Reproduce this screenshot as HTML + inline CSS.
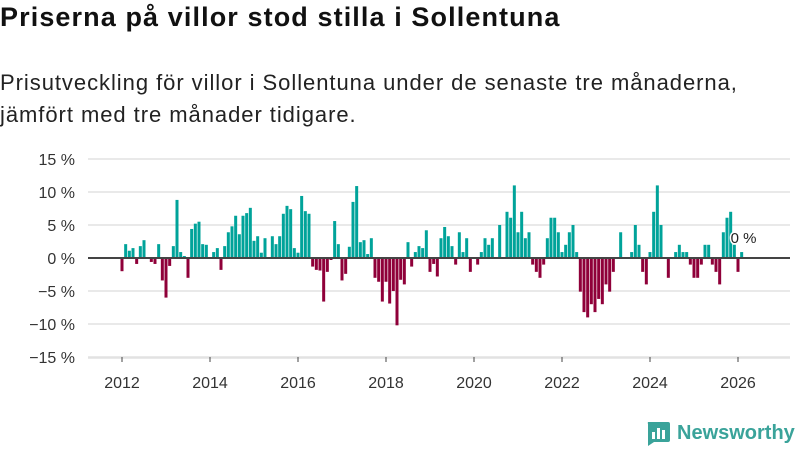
<!DOCTYPE html>
<html><head><meta charset="utf-8">
<style>
body{margin:0;width:800px;height:450px;background:#fff;font-family:"Liberation Sans",sans-serif;overflow:hidden;position:relative}
#title{position:absolute;left:0;top:2px;font-size:27px;font-weight:bold;color:#111;letter-spacing:1.1px}
#sub{position:absolute;left:0;top:67px;font-size:22px;color:#222;line-height:32px;letter-spacing:0.95px}
svg{position:absolute;left:0;top:0}
</style></head><body>
<div id="title">Priserna på villor stod stilla i Sollentuna</div>
<div id="sub">Prisutveckling för villor i Sollentuna under de senaste tre månaderna,<br>jämfört med tre månader tidigare.</div>
<svg id="chart" width="800" height="450"></svg>
<script>
const startYear = 2012;
const values = [-2,2.1,1.1,1.5,-0.9,1.8,2.7,0,-0.6,-0.9,2.1,-3.4,-6,-1.2,1.8,8.8,0.9,0.3,-3,4.4,5.2,5.5,2.1,2,
0,0.9,1.5,-1.8,1.8,3.9,4.8,6.4,3.6,6.4,6.8,7.6,2.6,3.3,0.8,3,0,3.3,2.1,3.3,6.7,7.9,7.4,1.5,0.8,9.4,7.1,6.7,-1.3,-1.8,-1.9,-6.6,-2.1,
-0.3,5.6,2.1,-3.4,-2.4,1.7,8.5,10.9,2.4,2.7,0.6,3,-3,-3.6,
-6.6,-3.6,-6.9,-5,-10.2,-3.3,-4,2.4,-1.3,0.9,1.8,1.5,4.2,-2.1,-0.9,-2.8,3,4.7,3.3,1.8,-1,3.9,0.9,3,-2.1,0,-1,0.9,3,2,3,0,5,0,7,6.1,11,3.9,7,3,3.9,-1,-2.1,-3,
-1,3,6.1,6.1,3.9,0.9,2,3.9,5,0.9,-5.1,-8.2,-9,-7,-8.2,-6.2,-7,-4,-5.1,-2.1,
0,3.9,0,0,0.9,5,2,-2.1,-4,0.9,7,11,5,0,-3,0,0.9,2,0.9,0.9,-1,-3,-3,-1,2,2,-1,-2.1,-4,3.9,6.1,7,2,-2.1,0.9];
const yTicks = [15,10,5,0,-5,-10,-15];
const yTickLabels = ["15 %","10 %","5 %","0 %","−5 %","−10 %","−15 %"];
const xTicks = [2012,2014,2016,2018,2020,2022,2024,2026];
const lastLabel = "0 %";

const NS="http://www.w3.org/2000/svg";
const svg=document.getElementById('chart');
function y(v){return 258 - v*6.6;}
function x(yearFrac){return 122 + (yearFrac-2012)*44;}
function mk(t,a){const e=document.createElementNS(NS,t);for(const k in a)e.setAttribute(k,a[k]);svg.appendChild(e);return e;}
yTicks.forEach((t,i)=>{
  if(t!==0){const l=mk('line',{x1:88,x2:790,y1:y(t),y2:y(t),stroke:'#e2e2e2','stroke-width':1.5});
  
  }
  const tx=mk('text',{x:75,y:y(t)+6,'text-anchor':'end','font-size':16,fill:'#333','font-family':'Liberation Sans, sans-serif'});
  tx.textContent=yTickLabels[i];
  
  
});
const base=mk('line',{x1:88,x2:790,y1:y(-15)+1,y2:y(-15)+1,stroke:'#e2e2e2','stroke-width':1.5});
xTicks.forEach(t=>{
  const tk=mk('line',{x1:x(t),x2:x(t),y1:357,y2:362,stroke:'#444','stroke-width':1});
  
  
  const tx=mk('text',{x:x(t),y:388,'text-anchor':'middle','font-size':16,fill:'#333','font-family':'Liberation Sans, sans-serif'});
  tx.textContent=t;
  
  
});
values.forEach((v,i)=>{
  if(v===0)return;
  const cx=x(startYear+i/12);
  const r=mk('rect',{x:cx-1.5,width:3,y:Math.min(y(v),y(0)),height:Math.abs(y(v)-y(0)),fill:v>0?'#00a39a':'#8f0039'});
  
  
});
const zl=mk('line',{x1:88,x2:790,y1:258,y2:258,stroke:'#444','stroke-width':2});


const lx=x(startYear+(values.length-1)/12);
const lbl=mk('text',{x:lx-11,y:243,'font-size':15,fill:'#222',stroke:'#fff','stroke-width':3,'paint-order':'stroke','font-family':'Liberation Sans, sans-serif'});
lbl.textContent=lastLabel;


</script>
<div style="position:absolute;left:645px;top:420px;display:flex;align-items:center">
<svg width="26" height="26" viewBox="0 0 26 26" style="position:static"><path d="M3 2h20a2 2 0 0 1 2 2v16a2 2 0 0 1-2 2H9l-6 4V4a2 2 0 0 1 0-2z" fill="#3aa39a"/><rect x="7" y="12" width="3" height="7" fill="#fff"/><rect x="12" y="8" width="3" height="11" fill="#fff"/><rect x="17" y="10" width="3" height="9" fill="#fff"/></svg>
<span style="color:#3aa39a;font-size:20px;font-weight:bold;margin-left:6px">Newsworthy</span></div>
</body></html>
